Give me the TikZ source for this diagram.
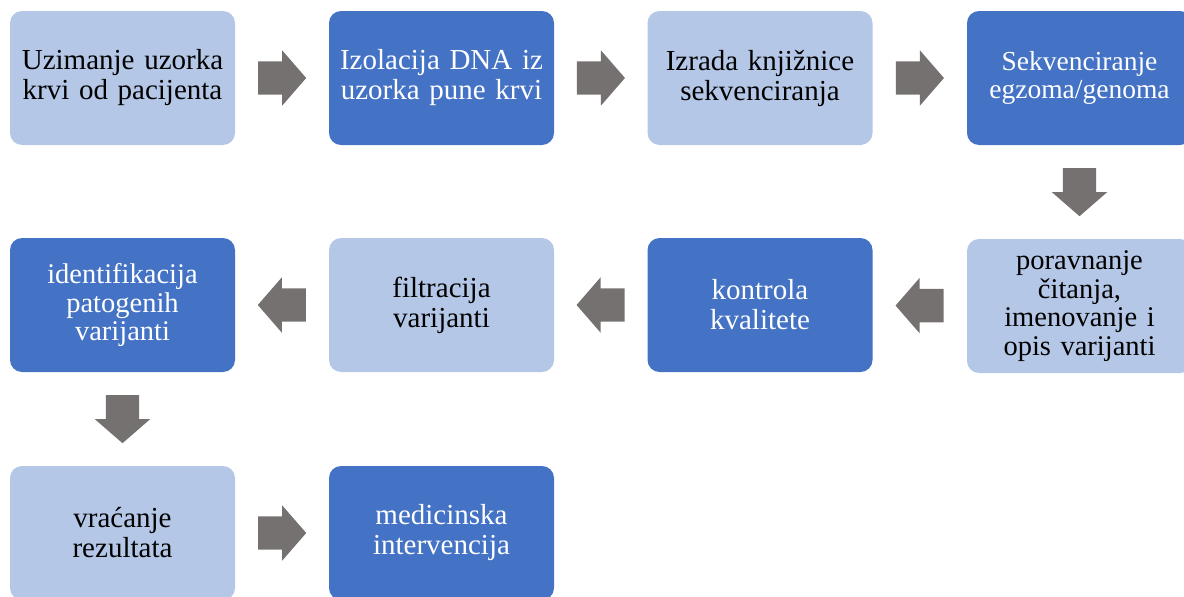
\documentclass[tikz,border=0pt]{standalone}
\usepackage{fontspec}
\setmainfont{Liberation Serif}
\usetikzlibrary{shapes.arrows,calc}

\definecolor{svijetloPlava}{HTML}{B4C7E7}
\definecolor{tamnoPlava}{HTML}{4472C4}
\definecolor{sivaStrelica}{HTML}{767171}

\tikzset{
    korak/.style={rectangle, rounded corners=12pt, inner sep=0pt,
        minimum width=225pt, minimum height=134pt, text width=218pt,
        align=center, font=\fontsize{29}{30}\selectfont},
    svijetli/.style={korak, fill=svijetloPlava, text=black},
    tamni/.style={korak, fill=tamnoPlava, text=white},
    gusto/.style={font=\fontsize{28.5}{28.5}\selectfont},
    strelica/.style={single arrow, fill=sivaStrelica, draw=none, anchor=tail,
        inner xsep=0pt, inner ysep=16.5pt, minimum height=48pt,
        single arrow head extend=11pt, single arrow tip angle=98},
}

\begin{document}
\begin{tikzpicture}[x=1pt, y=-1pt]
    \def\redA{77}
    \def\redB{305}
    \def\redC{533}

    \useasboundingbox (0,0) rectangle (1184,597);
    \clip (0,0) rectangle (1184,597);

    %prvi red
    \node[svijetli] (uzimanje) at (122.5,\redA+1) {Uzimanje uzorka\\krvi od pacijenta};
    \node[tamni] (izolacija) at (441.5,\redA+1) {Izolacija DNA iz\\uzorka pune krvi};
    \node[svijetli] (knjiznica) at (760,\redA+1) {Izrada knjižnice\\sekvenciranja};
    \node[tamni, font=\fontsize{27.5}{28}\selectfont] (sekvenciranje) at (1079.5,\redA+1) {Sekvenciranje\\egzoma/genoma};

    %drugi red
    \node[svijetli, gusto] (poravnanje) at (1079.5,\redB+1) {poravnanje\\čitanja,\\imenovanje i\\opis varijanti};
    \node[tamni] (kontrola) at (760,\redB) {kontrola\\kvalitete};
    \node[svijetli] (filtracija) at (441.5,\redB) {filtracija\\varijanti};
    \node[tamni, gusto] (identifikacija) at (122.5,\redB) {identifikacija\\patogenih\\varijanti};

    %treci red
    \node[svijetli] (vracanje) at (122.5,\redC) {vraćanje\\rezultata};
    \node[tamni] (intervencija) at (441.5,\redC) {medicinska\\intervencija};

    %strelice
    \foreach \od/\do/\ime/\kut in {
        uzimanje/izolacija/s1/0, izolacija/knjiznica/s2/0,
        knjiznica/sekvenciranje/s3/0, sekvenciranje/poravnanje/s4/-90,
        poravnanje/kontrola/s5/180, kontrola/filtracija/s6/180,
        filtracija/identifikacija/s7/180, identifikacija/vracanje/s8/-90,
        vracanje/intervencija/s9/0
    } {
        \node[strelica, rotate=\kut] (\ime) at ($(\od)!0.5!(\do)!24pt!(\od)$) {};
    }
\end{tikzpicture}
\end{document}
